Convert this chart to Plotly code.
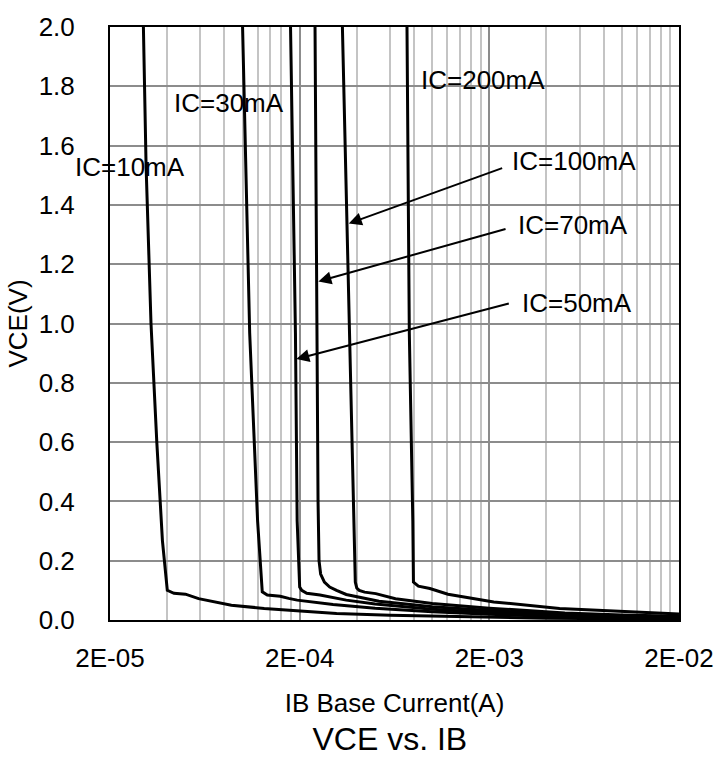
import math
import plotly.graph_objects as go

# ---- data (IB in A, VCE in V) ----
ic10_ib = [3.00e-5, 3.10e-5, 3.29e-5, 3.53e-5, 3.78e-5, 3.86e-5, 3.95e-5, 4.01e-5, 4.35e-5, 5.0e-5,
           5.86e-5, 8.73e-5, 1.30e-4, 1.94e-4, 3.13e-4, 6.0e-4, 1.5e-3, 4.0e-3, 1.0e-2, 2.0e-2]
ic10_v = [2.0, 1.53, 1.0, 0.6, 0.267, 0.2, 0.13, 0.10, 0.09, 0.087,
          0.072, 0.050, 0.039, 0.031, 0.022, 0.016, 0.010, 0.006, 0.004, 0.003]

ic30_ib = [1.00e-4, 1.09e-4, 1.20e-4, 1.25e-4, 1.27e-4, 1.35e-4, 1.50e-4, 1.58e-4, 1.75e-4, 1.94e-4,
           3.0e-4, 5.0e-4, 1.0e-3, 2.0e-3, 5.0e-3, 1.0e-2, 2.0e-2]
ic30_v = [2.0, 0.969, 0.334, 0.14, 0.095, 0.084, 0.081, 0.080, 0.073, 0.067,
          0.052, 0.040, 0.028, 0.019, 0.011, 0.008, 0.006]

ic50_ib = [1.79e-4, 1.90e-4, 1.94e-4, 1.99e-4, 2.0e-4, 2.05e-4, 2.18e-4, 2.56e-4, 3.52e-4, 5.0e-4,
           1.0e-3, 2.0e-3, 5.0e-3, 1.0e-2, 2.0e-2]
ic50_v = [2.0, 0.969, 0.334, 0.15, 0.111, 0.10, 0.09, 0.084, 0.067, 0.054,
          0.036, 0.025, 0.015, 0.010, 0.008]

ic70_ib = [2.41e-4, 2.46e-4, 2.50e-4, 2.53e-4, 2.58e-4, 2.70e-4, 2.88e-4, 3.13e-4, 3.52e-4, 5.24e-4,
           1.0e-3, 2.0e-3, 5.0e-3, 1.0e-2, 2.0e-2]
ic70_v = [2.0, 0.969, 0.4, 0.2, 0.155, 0.128, 0.111, 0.10, 0.086, 0.063,
          0.045, 0.032, 0.019, 0.013, 0.010]

ic100_ib = [3.36e-4, 3.66e-4, 3.89e-4, 3.93e-4, 4.00e-4, 4.12e-4, 4.4e-4, 5.04e-4, 6.4e-4, 1.0e-3,
            2.0e-3, 5.0e-3, 1.0e-2, 2.0e-2]
ic100_v = [2.0, 0.969, 0.334, 0.128, 0.108, 0.10, 0.094, 0.089, 0.072, 0.056,
           0.040, 0.024, 0.017, 0.013]

ic200_ib = [7.36e-4, 7.57e-4, 7.90e-4, 7.96e-4, 8.45e-4, 9.72e-4, 1.21e-3, 1.54e-3, 2.11e-3, 4.69e-3,
            1.04e-2, 2.0e-2]
ic200_v = [2.0, 0.969, 0.334, 0.128, 0.114, 0.106, 0.087, 0.075, 0.061, 0.039,
           0.028, 0.020]

series_names = ["IC=10mA", "IC=30mA", "IC=50mA", "IC=70mA", "IC=100mA", "IC=200mA"]
series_x = [ic10_ib, ic30_ib, ic50_ib, ic70_ib, ic100_ib, ic200_ib]
series_y = [ic10_v, ic30_v, ic50_v, ic70_v, ic100_v, ic200_v]

x_tick_vals = [2e-5, 2e-4, 2e-3, 2e-2]
x_tick_text = ["2E-05", "2E-04", "2E-03", "2E-02"]

# plain labels (no arrow): text, IB at anchor edge, VCE at middle
plain_labels = ["IC=10mA", "IC=30mA", "IC=200mA"]
plain_ib = [5.08e-5, 4.26e-5, 8.55e-4]
plain_v = [1.529, 1.743, 1.821]
plain_anchor = ["right", "left", "left"]

# arrow labels: tip on curve, tail, text position
arrow_labels = ["IC=100mA", "IC=70mA", "IC=50mA"]
arrow_tip_ib = [3.63e-4, 2.51e-4, 1.92e-4]
arrow_tip_v = [1.337, 1.142, 0.88]
arrow_tail_ib = [2.38e-3, 2.48e-3, 2.58e-3]
arrow_tail_v = [1.526, 1.32, 1.069]
arrow_text_ib = [2.58e-3, 2.78e-3, 2.91e-3]
arrow_text_v = [1.548, 1.331, 1.069]

FONT = "Liberation Sans, Arial, sans-serif"

fig = go.Figure()
for name, xs, ys in zip(series_names, series_x, series_y):
    fig.add_trace(go.Scatter(x=xs, y=ys, mode="lines", name=name,
                             line=dict(color="black", width=3), showlegend=False))

annotations = []
for t, xi, yi, anc in zip(plain_labels, plain_ib, plain_v, plain_anchor):
    annotations.append(dict(x=math.log10(xi), y=yi, xref="x", yref="y", text=t,
                            showarrow=False, xanchor=anc, yanchor="middle",
                            font=dict(family=FONT, size=26, color="black")))
for t, tx, ty, ax, ay, lx, ly in zip(arrow_labels, arrow_tip_ib, arrow_tip_v,
                                     arrow_tail_ib, arrow_tail_v, arrow_text_ib, arrow_text_v):
    annotations.append(dict(x=math.log10(tx), y=ty, xref="x", yref="y",
                            ax=math.log10(ax), ay=ay, axref="x", ayref="y",
                            text="", showarrow=True, arrowhead=2, arrowsize=1.3,
                            arrowwidth=2, arrowcolor="black", standoff=0))
    annotations.append(dict(x=math.log10(lx), y=ly, xref="x", yref="y", text=t,
                            showarrow=False, xanchor="left", yanchor="middle",
                            font=dict(family=FONT, size=26, color="black")))

minor_vals = [d * k for d in [2e-5, 2e-4, 2e-3] for k in range(2, 10)]

fig.update_layout(
    width=726, height=758,
    margin=dict(l=110, r=38, t=22, b=138),
    paper_bgcolor="white", plot_bgcolor="white",
    font=dict(family=FONT, size=26, color="black"),
    title=dict(text="VCE vs. IB", x=0.537, xanchor="center", y=0.025, yanchor="middle",
               yref="container", font=dict(family=FONT, size=32, color="black")),
    annotations=annotations,
    xaxis=dict(
        type="log", range=[math.log10(2e-5), math.log10(2e-2)],
        tickmode="array", tickvals=x_tick_vals, ticktext=x_tick_text,
        showgrid=True, gridcolor="#8c8c8c", gridwidth=1.5,
        minor=dict(tickmode="array", tickvals=minor_vals, showgrid=True,
                   gridcolor="#c4c4c4", gridwidth=1.5, ticks=""),
        showline=True, linecolor="black", linewidth=2, mirror=True,
        ticks="", ticklabelstandoff=14,
        title=dict(text="IB Base Current(A)", standoff=22,
                   font=dict(family=FONT, size=26)),
        zeroline=False,
    ),
    yaxis=dict(
        range=[0, 2.0], tickmode="linear", tick0=0, dtick=0.2, tickformat=".1f",
        showgrid=True, gridcolor="#8c8c8c", gridwidth=1.5,
        showline=True, linecolor="black", linewidth=2, mirror=True,
        ticks="", ticklabelstandoff=28, zeroline=False,
        title=dict(text="VCE(V)", standoff=4, font=dict(family=FONT, size=26)),
    ),
)

fig.write_html("out.html", config={"displayModeBar": False},
               post_script="document.body.style.margin='0';document.body.style.overflow='hidden';")
